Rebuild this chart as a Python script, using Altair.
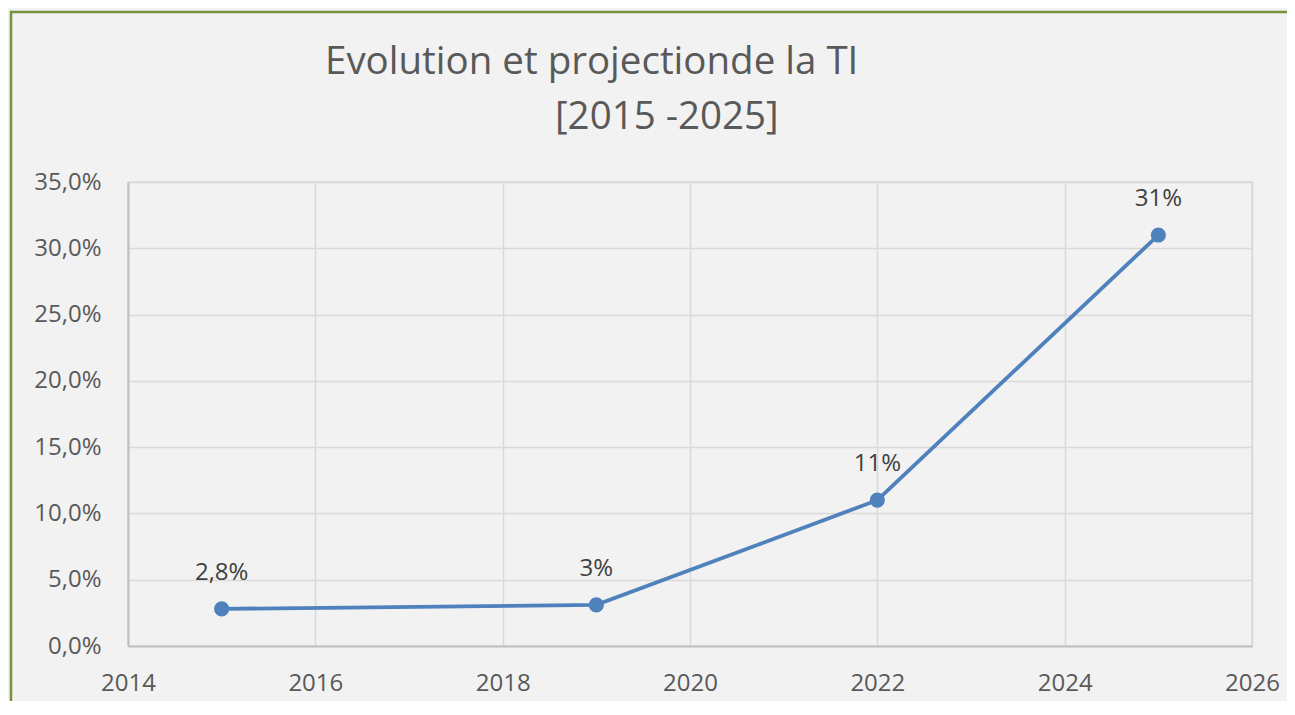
import altair as alt
import pandas as pd

years = [2015, 2019, 2022, 2025]
values = [0.028, 0.031, 0.11, 0.31]
labels = ["2,8%", "3%", "11%", "31%"]
x_ticks = [2014, 2016, 2018, 2020, 2022, 2024, 2026]
y_ticks = [0.0, 0.05, 0.10, 0.15, 0.20, 0.25, 0.30, 0.35]
title_line1 = "Evolution et projectionde la TI"
title_line2 = "[2015 -2025]"

df = pd.DataFrame({"year": years, "value": values, "label": labels})
frame_df = pd.DataFrame({"k": [0]})

FONT = "Open Sans"
BLUE = "#4f81bd"
AXIS_TXT = "#595959"
GRID = "#d9d9d9"
DOMAIN = "#bfbfbf"

x_enc = alt.X(
    "year:Q",
    scale=alt.Scale(domain=[2014, 2026], nice=False, zero=False),
    axis=alt.Axis(
        values=x_ticks, format="d", title=None, grid=True, gridColor=GRID,
        gridWidth=1.5, domainColor=DOMAIN, domainWidth=2, ticks=False,
        labelPadding=25, labelFont=FONT, labelFontSize=24, labelColor=AXIS_TXT,
        labelFlush=False,
    ),
)
y_enc = alt.Y(
    "value:Q",
    scale=alt.Scale(domain=[0, 0.35], nice=False),
    axis=alt.Axis(
        values=y_ticks, title=None, grid=True, gridColor=GRID, gridWidth=1.5,
        domainColor=DOMAIN, domainWidth=2, ticks=False, labelPadding=27,
        labelFont=FONT, labelFontSize=24, labelColor=AXIS_TXT, labelFlush=False,
        labelExpr="replace(format(datum.value * 100, '.1f'), '.', ',') + '%'",
    ),
)

frame = alt.Chart(frame_df).mark_rect(
    fill="#f2f2f2", fillOpacity=0, stroke="#77933c", strokeWidth=2.5
).encode(
    x=alt.value(-117), x2=alt.value(1400), y=alt.value(-170), y2=alt.value(800)
)

base = alt.Chart(df)
line = base.mark_line(color=BLUE, strokeWidth=3.8).encode(x=x_enc, y=y_enc)
points = base.mark_point(filled=True, color=BLUE, size=230, opacity=1).encode(
    x="year:Q", y="value:Q"
)
text = base.mark_text(
    font=FONT, fontSize=24, color="#404040", baseline="alphabetic", dy=-29
).encode(x="year:Q", y="value:Q", text="label:N")

indent = "\u200b" + "\u00a0" * 23
chart = (
    alt.layer(frame, line, points, text)
    .properties(
        width=1124,
        height=464,
        autosize=alt.AutoSizeParams(type="none"),
        padding={"left": 120, "top": 174, "right": 35, "bottom": 55},
        background="#f2f2f2",
        title=alt.TitleParams(
            text=title_line1,
            subtitle=indent + title_line2,
            anchor="start",
            frame="group",
            dx=197,
            dy=127,
            offset=0,
            font=FONT,
            fontSize=38.5,
            fontWeight="normal",
            color=AXIS_TXT,
            subtitleFont=FONT,
            subtitleFontSize=38.5,
            subtitleColor=AXIS_TXT,
            subtitlePadding=17,
        ),
    )
    .configure_view(stroke=GRID, strokeWidth=1.5)
)

chart.save("out.html", embed_options={"renderer": "svg", "actions": False})
